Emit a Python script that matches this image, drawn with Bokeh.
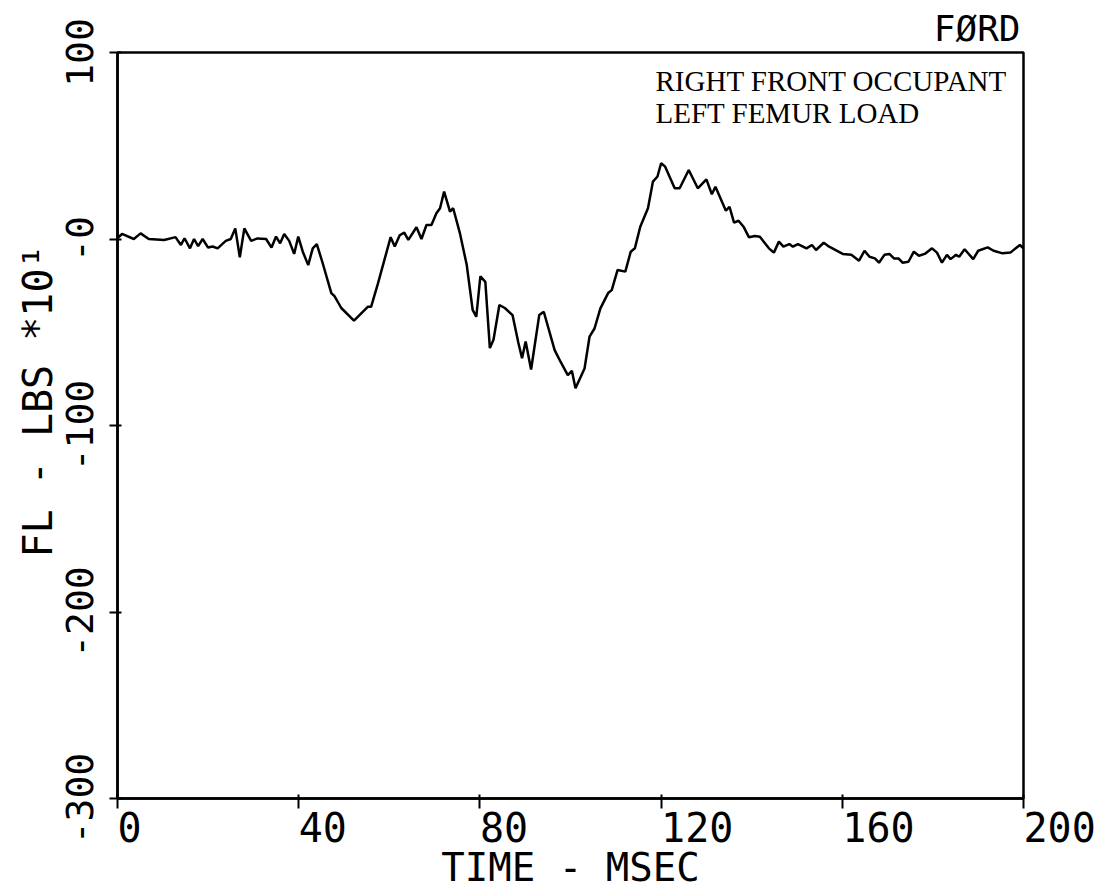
from bokeh.plotting import figure
from bokeh.models import Label, FixedTicker, Range1d, Title
from bokeh.embed import file_html
from bokeh.resources import INLINE

# ---- data ----
time_ms = [0.0, 1.0, 3.6, 5.1, 6.9, 10.3, 12.8, 14.0, 14.8, 16.0, 16.9, 17.8, 18.8, 20.0, 21.0,
           22.1, 23.9, 25.0, 26.0, 27.0, 28.0, 29.5, 30.9, 32.8, 34.0, 35.0, 35.9, 36.8, 37.9,
           39.0, 39.9, 40.9, 42.1, 43.1, 44.0, 45.3, 47.2, 47.9, 49.4, 52.2, 55.3, 56.0, 57.5,
           60.3, 61.2, 62.3, 63.3, 64.2, 66.0, 67.1, 68.2, 69.3, 70.4, 71.2, 72.1, 73.4, 74.1,
           75.6, 77.1, 78.4, 79.2, 80.1, 81.2, 82.2, 83.0, 84.3, 85.5, 87.2, 88.5, 89.3, 90.1,
           91.3, 93.1, 94.1, 96.5, 97.8, 99.4, 100.3, 101.1, 103.1, 104.2, 105.3, 106.6, 108.3,
           109.1, 110.4, 112.1, 113.3, 114.2, 115.4, 117.1, 118.2, 119.2, 120.0, 120.9, 123.0,
           124.1, 126.1, 128.1, 130.0, 131.2, 132.0, 134.3, 135.1, 136.1, 137.1, 138.2, 139.4,
           140.7, 141.8, 143.8, 144.9, 146.0, 147.0, 148.3, 149.1, 150.2, 152.1, 153.3, 154.2,
           155.9, 157.1, 160.1, 162.0, 163.7, 164.9, 166.0, 167.2, 168.1, 169.3, 170.4, 171.4,
           172.4, 173.3, 174.6, 175.8, 176.9, 178.2, 179.8, 180.9, 182.0, 183.1, 183.9, 185.1,
           185.8, 187.0, 188.9, 190.0, 192.1, 193.4, 195.4, 197.1, 199.2, 200.0]
load = [0.5, 2.7, 0.0, 3.0, 0.0, -0.5, 1.0, -3.2, 0.4, -5.0, 0.0, -3.8, 0.0, -4.6, -4.0,
        -5.0, -1.0, 0.0, 5.7, -9.8, 5.7, -1.0, 0.3, 0.0, -4.6, 1.3, -2.3, 2.7, -1.0,
        -8.0, 1.3, -6.8, -14.0, -5.0, -2.8, -13.0, -29.0, -30.6, -37.0, -43.8, -36.3, -36.3, -23.8,
        1.0, -4.0, 2.0, 3.4, -0.5, 6.3, 0.0, 7.5, 7.5, 13.8, 16.5, 25.4, 14.7, 16.5,
        3.0, -14.0, -38.0, -41.7, -20.0, -23.0, -58.5, -54.0, -35.4, -37.0, -40.8, -55.8, -63.9, -55.0,
        -70.0, -40.8, -39.0, -59.6, -65.8, -73.0, -70.7, -80.0, -69.4, -52.4, -48.0, -37.2, -29.0,
        -27.4, -16.6, -17.5, -6.8, -5.0, 6.6, 16.5, 30.8, 33.5, 40.6, 38.8, 27.2,
        27.2, 37.0, 27.2, 32.0, 24.0, 28.0, 15.2, 17.3, 8.8, 9.8, 6.6, 0.9,
        1.6, 1.2, -5.0, -7.3, -1.4, -4.1, -2.7, -4.1, -2.7, -5.0, -3.2, -5.9,
        -2.0, -4.1, -8.0, -8.5, -11.6, -6.3, -9.5, -10.4, -12.7, -8.5, -8.0, -10.4,
        -10.4, -12.7, -12.2, -6.8, -9.0, -8.0, -5.0, -7.3, -12.7, -8.5, -10.8, -8.5,
        -9.5, -5.5, -10.8, -6.3, -4.5, -6.3, -7.7, -7.3, -3.2, -5.0]

x_ticks = [0, 40, 80, 120, 160, 200]
x_tick_labels = ["0", "40", "80", "120", "160", "200"]
y_ticks = [-300, -200, -100, 0, 100]
y_tick_labels = ["-300", "-200", "-100", "-0", "100"]
title_text = "FØRD"
note_lines = ["RIGHT FRONT OCCUPANT", "LEFT FEMUR LOAD"]
x_label = "TIME - MSEC"
y_label = "FL - LBS *10¹"

PLOT_FONT = "DejaVu Sans Mono"
NOTE_FONT = "Liberation Serif"
INK = "black"

x0, x1 = x_ticks[0], x_ticks[-1]
y0, y1 = y_ticks[0], y_ticks[-1]

p = figure(width=1105, height=892,
           x_range=Range1d(x0, x1), y_range=Range1d(y0, y1),
           output_backend="svg", toolbar_location=None,
           min_border_left=117, min_border_right=82,
           min_border_top=52, min_border_bottom=94,
           background_fill_color="white", border_fill_color="white")

# title (upper right, above the frame)
p.title.text = title_text
p.title.align = "right"
p.title.text_font = PLOT_FONT
p.title.text_font_size = "36px"
p.title.text_font_style = "normal"
p.title.text_color = INK
p.title.standoff = 7
p.title.offset = 3

p.grid.visible = False
p.outline_line_color = INK
p.outline_line_width = 2.5
p.outline_line_alpha = 1.0

# x axis: labels start at their tick, as the plotter wrote them
xa = p.xaxis[0]
xa.ticker = FixedTicker(ticks=x_ticks)
xa.major_label_overrides = dict(zip(x_ticks, x_tick_labels))
xa.major_label_orientation = -0.0001
xa.major_label_text_font = PLOT_FONT
xa.major_label_text_font_size = "40px"
xa.major_label_text_color = INK
xa.major_label_standoff = 18
xa.minor_tick_line_color = None
xa.major_tick_out = 10
xa.major_tick_in = 4
xa.major_tick_line_width = 2
xa.axis_line_width = 2.5
xa.axis_line_color = INK
xa.axis_label = x_label
xa.axis_label_text_font = PLOT_FONT
xa.axis_label_text_font_size = "39px"
xa.axis_label_text_font_style = "normal"
xa.axis_label_text_color = INK
xa.axis_label_standoff = -15

# y axis
ya = p.yaxis[0]
ya.ticker = FixedTicker(ticks=y_ticks)
ya.major_label_overrides = dict(zip(y_ticks, y_tick_labels))
ya.major_label_orientation = "vertical"
ya.major_label_text_font = PLOT_FONT
ya.major_label_text_font_size = "38px"
ya.major_label_text_color = INK
ya.major_label_standoff = 17
ya.minor_tick_line_color = None
ya.major_tick_out = 8
ya.major_tick_in = 4
ya.major_tick_line_width = 2
ya.axis_line_width = 2.5
ya.axis_line_color = INK

# y axis title, written from a fixed start point like the plotter did
p.add_layout(Title(text=y_label, align="left", offset=241, standoff=3,
                   text_font=PLOT_FONT, text_font_size="40px",
                   text_font_style="normal", text_color=INK), "left")

# annotation text in the upper right corner
for i, line in enumerate(note_lines):
    p.add_layout(Label(x=x1, y=y1, text=line, x_offset=-368, y_offset=-28 - 32 * i,
                       text_align="left", text_baseline="alphabetic",
                       text_font=NOTE_FONT, text_font_size="29px", text_color=INK))

# the trace
p.line(time_ms, load, line_color=INK, line_width=2.5)

open("out.html", "w").write(file_html(p, INLINE))
